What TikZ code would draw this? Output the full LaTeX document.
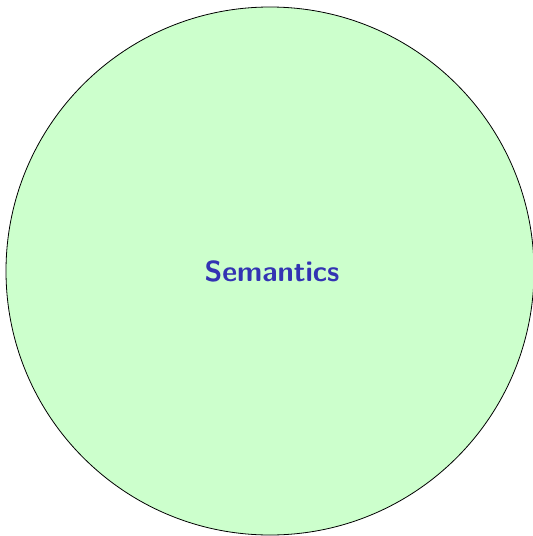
\documentclass[tikz,border=0pt]{standalone}
\usepackage{tikz}
\definecolor{fillgreen}{RGB}{204,255,204}
\definecolor{structblue}{RGB}{51,51,179}
\tikzset{bigcircle/.style={circle,draw=black,fill=fillgreen,line width=0.8pt,minimum size=528pt,inner sep=0pt},
  title/.style={text=structblue,font=\sffamily\bfseries\fontsize{29}{34}\selectfont}}
\begin{document}
\begin{tikzpicture}[x=1pt,y=-1pt]
\useasboundingbox (0,0) rectangle (533,536);
\node[bigcircle] (c) at (270,271) {};
\node[title] (t) at (272,271) {Semantics};
\end{tikzpicture}
\end{document}
